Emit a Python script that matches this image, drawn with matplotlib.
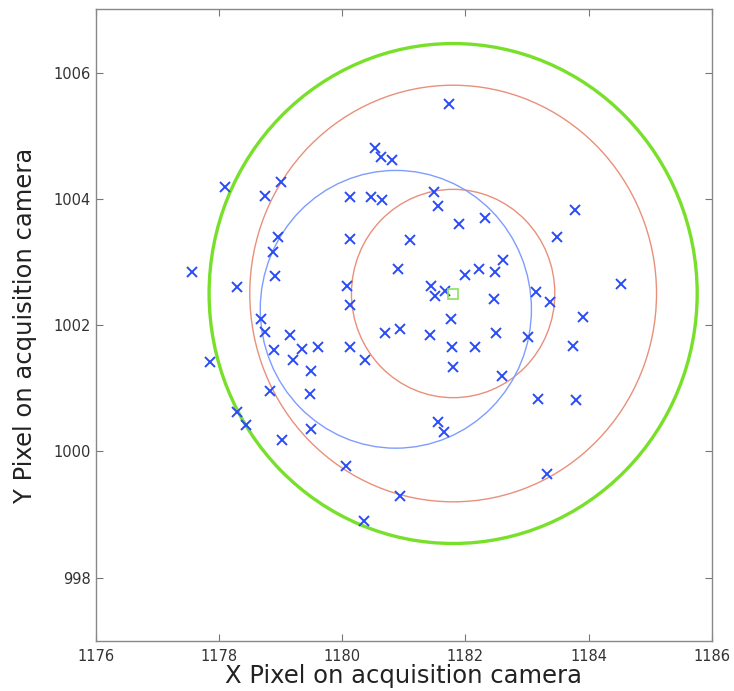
import matplotlib
matplotlib.use("Agg")
import matplotlib.pyplot as plt
from matplotlib.patches import Circle

# Star centroid positions measured on the acquisition camera
x_pos = [1177.57, 1178.10, 1178.74, 1179.01, 1178.96, 1178.88, 1178.91, 1178.30,
         1178.68, 1178.75, 1179.15, 1180.13, 1180.13, 1180.07, 1180.13, 1180.53,
         1180.63, 1180.80, 1180.47, 1180.65, 1181.10, 1180.90, 1181.73, 1181.49,
         1181.55, 1181.90, 1182.31, 1182.61, 1182.22, 1182.48, 1181.99, 1181.44,
         1181.51, 1181.67, 1182.46, 1183.77, 1183.48, 1184.53, 1183.14, 1183.37,
         1183.90, 1183.01, 1183.74, 1183.17, 1183.80, 1183.33, 1181.77, 1181.42,
         1182.50, 1181.78, 1182.15, 1181.80, 1182.60, 1181.56, 1181.65, 1180.69,
         1180.94, 1179.34, 1179.60, 1180.13, 1180.37, 1179.49, 1179.48, 1179.49,
         1180.06, 1180.93, 1180.36, 1178.89, 1179.20, 1177.85, 1178.83, 1178.30,
         1178.44, 1179.03]
y_pos = [1002.84, 1004.18, 1004.05, 1004.27, 1003.40, 1003.16, 1002.78, 1002.60,
         1002.10, 1001.89, 1001.85, 1004.03, 1003.36, 1002.62, 1002.32, 1004.80,
         1004.66, 1004.62, 1004.03, 1003.98, 1003.35, 1002.89, 1005.50, 1004.11,
         1003.88, 1003.60, 1003.70, 1003.03, 1002.89, 1002.84, 1002.80, 1002.62,
         1002.46, 1002.54, 1002.41, 1003.82, 1003.40, 1002.65, 1002.53, 1002.37,
         1002.13, 1001.81, 1001.67, 1000.83, 1000.82, 999.64, 1002.10, 1001.85,
         1001.88, 1001.66, 1001.66, 1001.33, 1001.20, 1000.46, 1000.30, 1001.87,
         1001.93, 1001.62, 1001.66, 1001.66, 1001.45, 1001.28, 1000.91, 1000.35,
         999.76, 999.30, 998.89, 1001.60, 1001.44, 1001.41, 1000.96, 1000.62,
         1000.42, 1000.18]

# Target position and tolerance rings
target = (1181.8, 1002.5)
ring_radii = [1.65, 3.3]
outer_radius = 3.96

# Fitted scatter circle
fit_center = (1180.87, 1002.25)
fit_radius = 2.2

x_ticks = [1176, 1178, 1180, 1182, 1184, 1186]
y_ticks = [998, 1000, 1002, 1004, 1006]

fig = plt.figure(figsize=(7.34, 6.91), dpi=100)
ax = fig.add_axes([0.1304, 0.0728, 0.8396, 0.9135])

ax.plot(x_pos, y_pos, linestyle="none", marker="x", color="#2a4cf5",
        markersize=7.5, markeredgewidth=1.4, zorder=3)

for r in ring_radii:
    ax.add_patch(Circle(target, r, fill=False, edgecolor="#e8907a", lw=1.0, zorder=2))
ax.add_patch(Circle(fit_center, fit_radius, fill=False, edgecolor="#7f9cff", lw=1.0, zorder=2))
ax.add_patch(Circle(target, outer_radius, fill=False, edgecolor="#78e02a", lw=2.4, zorder=2))

ax.plot([target[0]], [target[1]], linestyle="none", marker="s", markersize=6.5,
        markerfacecolor="none", markeredgecolor="#8fe060", markeredgewidth=1.2, zorder=4)

ax.set_xlim(1176, 1186)
ax.set_ylim(997, 1007)
ax.set_xticks(x_ticks)
ax.set_yticks(y_ticks)
ax.tick_params(direction="in", length=5, width=0.8, color="#777777",
               top=True, right=True, labelsize=10.5, labelcolor="#333333")
ax.tick_params(axis="x", pad=6)
ax.tick_params(axis="y", pad=3.5)
for s in ax.spines.values():
    s.set_color("#888888")
    s.set_linewidth(1.0)

ax.set_xlabel("X Pixel on acquisition camera", fontsize=17.5, color="#222222", labelpad=0)
ax.set_ylabel("Y Pixel on acquisition camera", fontsize=17.5, color="#222222", labelpad=12)

fig.savefig("out.png", dpi=100)
